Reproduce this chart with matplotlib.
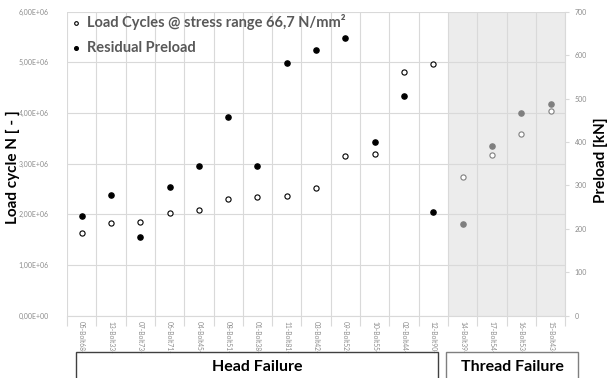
import matplotlib
matplotlib.use("Agg")
import matplotlib.pyplot as plt
from matplotlib.ticker import FuncFormatter, MultipleLocator
from matplotlib.patches import Rectangle

plt.rcParams['font.family'] = ['Lato', 'DejaVu Sans']

bolts = ["05-Bolt68-", "13-Bolt33-", "07-Bolt73-", "06-Bolt71-", "04-Bolt45-",
         "08-Bolt51-", "01-Bolt38-", "11-Bolt81-", "03-Bolt42-", "09-Bolt52-",
         "10-Bolt55-", "02-Bolt44-", "12-Bolt90-", "14-Bolt39-", "17-Bolt54-",
         "16-Bolt53-", "15-Bolt43-"]
# load cycles (left axis)
cycles = [1.635e6, 1.833e6, 1.841e6, 2.019e6, 2.090e6, 2.307e6, 2.341e6, 2.354e6,
          2.512e6, 3.156e6, 3.196e6, 4.803e6, 4.973e6,
          2.736e6, 3.164e6, 3.579e6, 4.033e6]
# residual preload in kN (right axis)
preload = [229, 278, 181, 297, 344, 458, 344, 582, 612, 640, 401, 506, 238,
           210, 391, 467, 487]
n_head = 13  # first 13 bolts failed in the head, the rest in the thread

fig = plt.figure(figsize=(6.09, 3.78), dpi=100)
ax = fig.add_axes([0.110, 0.165, 0.818, 0.804])
ax2 = ax.twinx()

x = list(range(len(bolts)))
grid_c = "#d9d9d9"
tick_c = "#8c8c8c"

ax.axvspan(n_head - 0.5, len(bolts) - 0.5, color="#ececec", zorder=0, lw=0)
ax.set_xlim(-0.5, len(bolts) - 0.5)
ax.set_ylim(0, 6e6)
ax2.set_ylim(0, 700)

ax.yaxis.set_major_locator(MultipleLocator(1e6))
ax.yaxis.set_major_formatter(FuncFormatter(lambda v, p: f"{v:.2E}".replace(".", ",")))
ax2.yaxis.set_major_locator(MultipleLocator(100))

ax.set_xticks(x)
ax.set_xticklabels(bolts, rotation=270, fontsize=4.8, color=tick_c)
ax.set_xticks([i + 0.5 for i in range(-1, len(bolts))], minor=True)
ax.tick_params(axis="x", which="major", length=0, pad=4)
ax.tick_params(axis="x", which="minor", length=7, color=grid_c, width=0.8)
ax.grid(True, axis="x", which="minor", color=grid_c, lw=0.8)
ax.grid(True, axis="y", which="major", color=grid_c, lw=0.8)
ax.set_axisbelow(True)
ax.tick_params(axis="y", length=0, labelsize=5, labelcolor=tick_c, pad=13)
ax2.tick_params(axis="y", length=3, color=grid_c, labelsize=5, labelcolor=tick_c, pad=4)

for sp in ["top", "left"]:
    ax.spines[sp].set_visible(False)
    ax2.spines[sp].set_visible(False)
ax.spines["bottom"].set_color(grid_c)
ax.spines["right"].set_visible(False)
ax2.spines["bottom"].set_visible(False)
ax2.spines["right"].set_color(grid_c)

# head failure points
h = slice(0, n_head)
ax.scatter(x[h], cycles[h], s=14, facecolor="white", edgecolor="black", lw=0.8,
           zorder=3, label="Load Cycles @ stress range 66,7 N/mm²")
ax2.scatter(x[h], preload[h], s=14, color="black", zorder=3, label="Residual Preload")
# thread failure points in grey
t = slice(n_head, None)
ax.scatter(x[t], cycles[t], s=14, facecolor="white", edgecolor="#7f7f7f", lw=0.8, zorder=3)
ax2.scatter(x[t], preload[t], s=14, color="#7f7f7f", zorder=3)

h1, l1 = ax.get_legend_handles_labels()
h2, l2 = ax2.get_legend_handles_labels()
leg = ax2.legend(h1 + h2, l1 + l2, loc="upper left", bbox_to_anchor=(-0.022, 1.035),
                 frameon=False, labelspacing=0.75, handletextpad=0.2, markerscale=0.7,
                 handlelength=1.0, prop={"weight": "bold", "size": 10.5})
for txt in leg.get_texts():
    txt.set_color("#595959")

ax.set_ylabel("Load cycle N [ - ]", fontsize=11, fontweight="bold")
ax.yaxis.set_label_coords(-0.094, 0.49)
ax2.set_ylabel("Preload [kN]", fontsize=11, fontweight="bold")
ax2.yaxis.set_label_coords(1.058, 0.51)

# failure mode boxes under the category labels
fig.patches.append(Rectangle((76 / 609, -0.1), (438 - 76) / 609, 0.1 + (378 - 352) / 378,
                             transform=fig.transFigure, fill=False, ec="#404040", lw=1))
fig.patches.append(Rectangle((446 / 609, -0.1), (578 - 446) / 609, 0.1 + (378 - 352) / 378,
                             transform=fig.transFigure, fill=False, ec="#7f7f7f", lw=1))
fig.text(257 / 609, 1 - 367 / 378, "Head Failure", ha="center", va="center",
         fontsize=11.5, fontweight="bold")
fig.text(512 / 609, 1 - 367 / 378, "Thread Failure", ha="center", va="center",
         fontsize=11.5, fontweight="bold")

fig.savefig("out.png", dpi=100)
